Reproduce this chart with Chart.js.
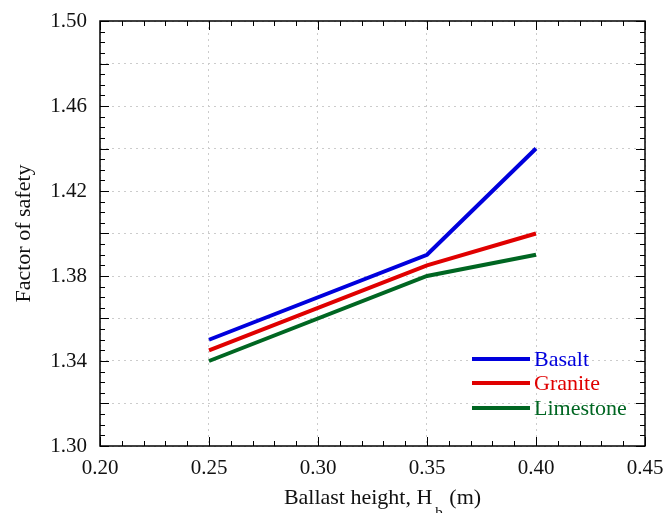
<!DOCTYPE html>
<html>
<head>
<meta charset="utf-8">
<script src="https://cdn.jsdelivr.net/npm/chart.js@4/dist/chart.umd.min.js"></script>
<style>
body { margin: 0; background: #fff; }
#wrap { width: 667px; height: 513px; }
</style>
</head>
<body>
<div id="wrap"><canvas id="chart" width="667" height="513"></canvas></div>
<script>
// Ballast height (m)
var heights = [0.25, 0.35, 0.40];
// Factor of safety per material
var basalt = [1.35, 1.39, 1.44];
var granite = [1.345, 1.385, 1.40];
var limestone = [1.34, 1.38, 1.39];
var names = ["Basalt", "Granite", "Limestone"];
var colors = ["#0000dd", "#e00000", "#006622"];

var serif = "'Liberation Serif', 'DejaVu Serif', serif";

function points(vals) {
    return heights.map(function (h, i) { return { x: h, y: vals[i] }; });
}

//Rahmen, kleine Ticks, Legende, x-Titel
var extras = {
    id: "extras",
    afterDraw: function (chart) {
        var ctx = chart.ctx;
        var a = chart.chartArea;
        var xs = chart.scales.x;
        var ys = chart.scales.y;
        ctx.save();
        ctx.strokeStyle = "#000";
        ctx.lineWidth = 1.5;
        ctx.strokeRect(a.left, a.top, a.right - a.left, a.bottom - a.top);
        ctx.lineWidth = 1;
        // y ticks
        for (var i = 0; i <= 40; i++) {
            var py = Math.round(ys.getPixelForValue(1.30 + i * 0.005)) + 0.5;
            var len = (i % 4 == 0) ? 9 : 5;
            ctx.beginPath();
            ctx.moveTo(a.left, py); ctx.lineTo(a.left + len, py);
            ctx.moveTo(a.right, py); ctx.lineTo(a.right - len, py);
            ctx.stroke();
        }
        // x ticks
        for (var j = 0; j <= 25; j++) {
            var px = Math.round(xs.getPixelForValue(0.20 + j * 0.01)) + 0.5;
            var l2 = (j % 5 == 0) ? 9 : 5;
            ctx.beginPath();
            ctx.moveTo(px, a.bottom); ctx.lineTo(px, a.bottom - l2);
            ctx.moveTo(px, a.top); ctx.lineTo(px, a.top + l2);
            ctx.stroke();
        }
        // legend
        ctx.font = "22px " + serif;
        ctx.textBaseline = "middle";
        ctx.textAlign = "left";
        var ly = [359, 383, 408];
        for (var k = 0; k < names.length; k++) {
            ctx.strokeStyle = colors[k];
            ctx.lineWidth = 4;
            ctx.beginPath();
            ctx.moveTo(472, ly[k]); ctx.lineTo(530, ly[k]);
            ctx.stroke();
            ctx.fillStyle = colors[k];
            ctx.fillText(names[k], 534, ly[k] + 1);
        }
        // x title with subscript
        ctx.fillStyle = "#111";
        ctx.textBaseline = "alphabetic";
        ctx.font = "22px " + serif;
        var t1 = "Ballast height, H";
        var t2 = " (m)";
        var w1 = ctx.measureText(t1).width;
        var w2 = ctx.measureText(t2).width;
        ctx.font = "15px " + serif;
        var wb = ctx.measureText("b").width + 4;
        var start = (a.left + a.right) / 2 + 10 - (w1 + wb + w2) / 2;
        ctx.fillText("b", start + w1 + 3, 517);
        ctx.font = "22px " + serif;
        ctx.fillText(t1, start, 504);
        ctx.fillText(t2, start + w1 + wb, 504);
        ctx.restore();
    }
};

var datasets = [basalt, granite, limestone].map(function (vals, i) {
    return {
        label: names[i],
        data: points(vals),
        borderColor: colors[i],
        backgroundColor: colors[i],
        borderWidth: 4,
        pointRadius: 0,
        fill: false,
        tension: 0
    };
});

var grid = {
    color: "#cccccc",
    lineWidth: 1,
    drawTicks: false
};

new Chart(document.getElementById("chart"), {
    type: "line",
    data: { datasets: datasets },
    options: {
        responsive: false,
        animation: false,
        layout: { padding: { top: 21, right: 22, left: 0, bottom: 0 } },
        plugins: {
            legend: { display: false },
            tooltip: { enabled: false }
        },
        scales: {
            x: {
                type: "linear",
                min: 0.20,
                max: 0.45,
                border: { display: false, dash: [2, 4] },
                grid: grid,
                ticks: {
                    stepSize: 0.05,
                    padding: 10,
                    color: "#111",
                    font: { family: serif, size: 21 },
                    callback: function (v) { return v.toFixed(2); }
                },
                afterFit: function (s) {
                    s.height = 67;
                    s.paddingLeft = 0;
                    s.paddingRight = 0;
                }
            },
            y: {
                min: 1.30,
                max: 1.50,
                border: { display: false, dash: [2, 4] },
                grid: grid,
                ticks: {
                    stepSize: 0.02,
                    padding: 13,
                    color: "#111",
                    font: { family: serif, size: 21 },
                    callback: function (v, idx) {
                        return (idx % 2 == 0) ? v.toFixed(2) : "";
                    }
                },
                title: {
                    display: true,
                    text: "Factor of safety",
                    color: "#111",
                    font: { family: serif, size: 22 },
                    padding: { top: 11, bottom: 0 }
                },
                afterFit: function (s) {
                    s.width = 100;
                    s.paddingTop = 0;
                    s.paddingBottom = 0;
                }
            }
        }
    },
    plugins: [extras]
});
</script>
</body>
</html>
